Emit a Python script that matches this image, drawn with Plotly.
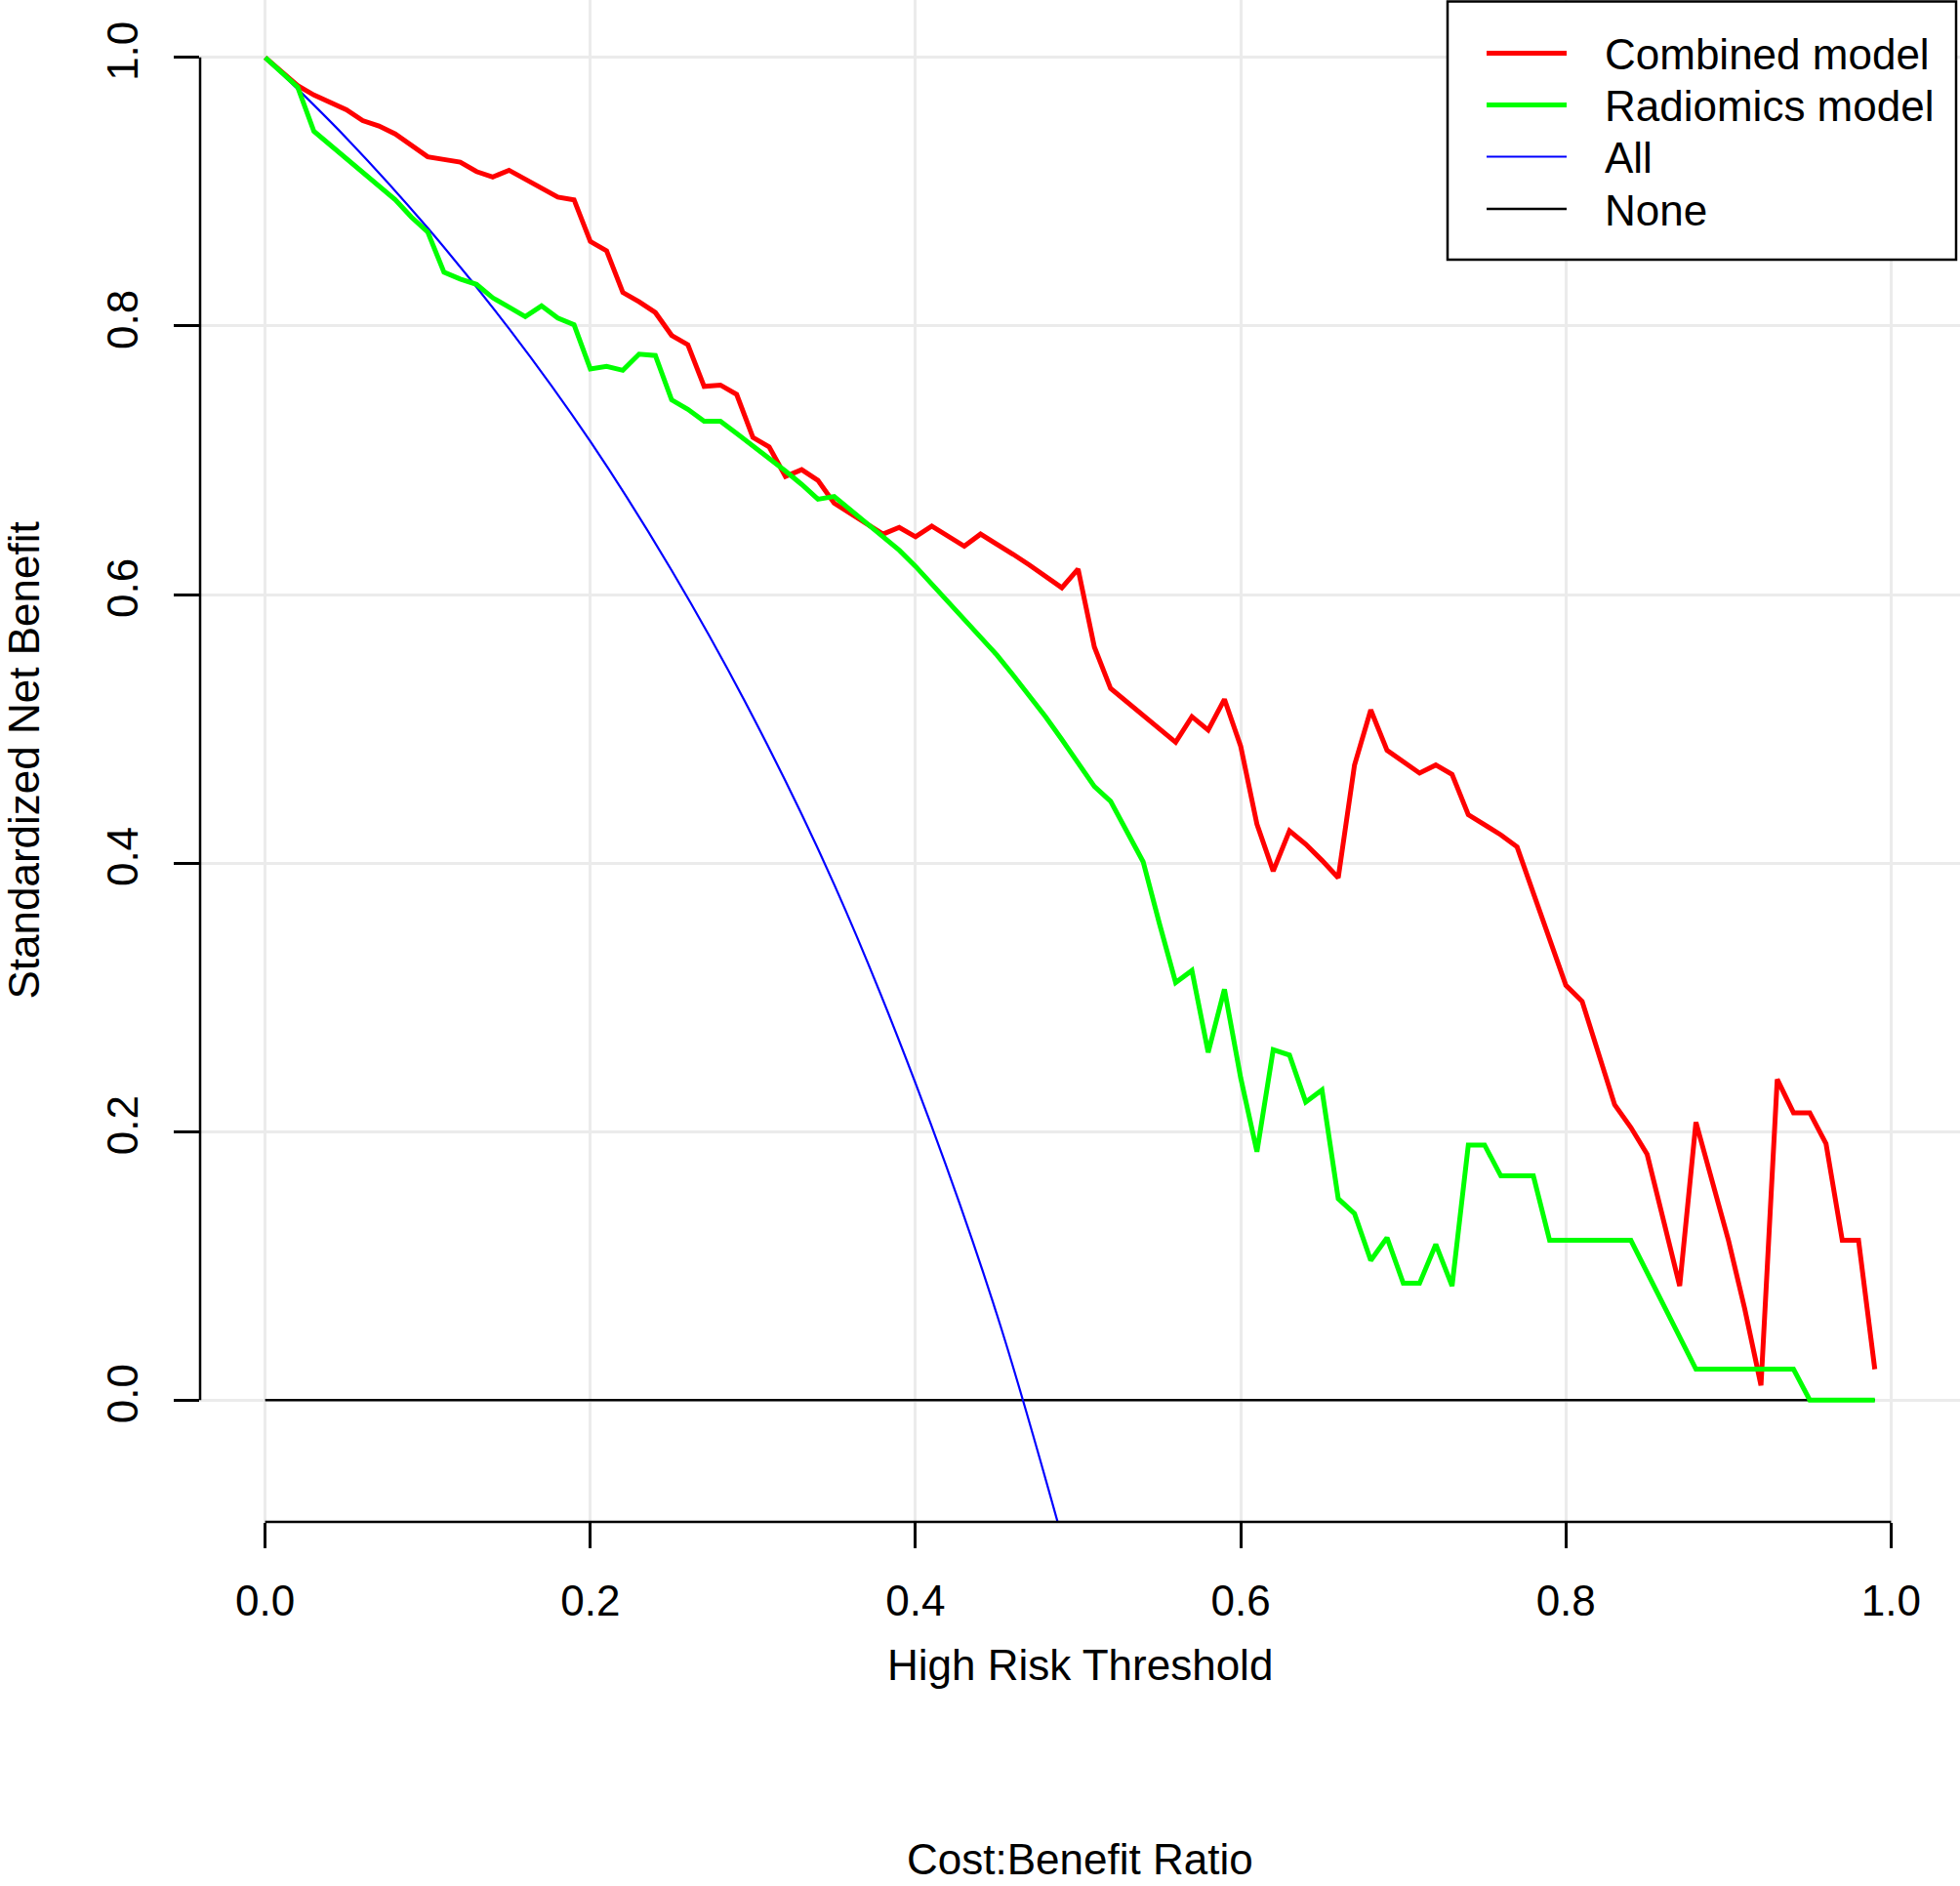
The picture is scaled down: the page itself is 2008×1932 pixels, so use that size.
import plotly.graph_objects as go

# threshold grid (0.00 ... 0.99)
thresholds = [i / 100 for i in range(100)]

combined_model = [
    1.000, 0.989, 0.979, 0.972, 0.966, 0.961, 0.953, 0.949, 0.943, 0.935,
    0.926, 0.924, 0.922, 0.915, 0.911, 0.916, 0.909, 0.903, 0.896, 0.894,
    0.863, 0.856, 0.825, 0.818, 0.810, 0.793, 0.786, 0.755, 0.756, 0.749,
    0.717, 0.710, 0.688, 0.693, 0.685, 0.668, 0.660, 0.653, 0.645, 0.650,
    0.643, 0.651, 0.644, 0.636, 0.645, 0.638, 0.630, 0.622, 0.613, 0.605,
    0.619, 0.561, 0.530, 0.520, 0.510, 0.500, 0.490, 0.509, 0.499, 0.522,
    0.487, 0.429, 0.394, 0.424, 0.414, 0.402, 0.389, 0.473, 0.514, 0.484,
    0.476, 0.467, 0.473, 0.466, 0.436, 0.429, 0.421, 0.412, 0.377, 0.343,
    0.309, 0.297, 0.259, 0.220, 0.203, 0.183, 0.134, 0.085, 0.207, 0.163,
    0.119, 0.068, 0.011, 0.239, 0.214, 0.214, 0.191, 0.119, 0.119, 0.023,
]

radiomics_model = [
    1.000, 0.989, 0.978, 0.945, 0.935, 0.925, 0.915, 0.904, 0.894, 0.881,
    0.870, 0.840, 0.835, 0.831, 0.821, 0.814, 0.807, 0.815, 0.806, 0.801,
    0.768, 0.770, 0.767, 0.779, 0.778, 0.745, 0.738, 0.729, 0.729, 0.720,
    0.711, 0.702, 0.692, 0.682, 0.671, 0.673, 0.663, 0.654, 0.644, 0.633,
    0.621, 0.608, 0.595, 0.582, 0.569, 0.555, 0.540, 0.525, 0.509, 0.492,
    0.475, 0.457, 0.446, 0.424, 0.401, 0.355, 0.311, 0.320, 0.259, 0.306,
    0.240, 0.185, 0.261, 0.257, 0.222, 0.231, 0.150, 0.139, 0.104, 0.121,
    0.087, 0.087, 0.116, 0.085, 0.190, 0.190, 0.167, 0.167, 0.167, 0.119,
    0.119, 0.119, 0.119, 0.119, 0.119, 0.095, 0.071, 0.047, 0.023, 0.023,
    0.023, 0.023, 0.023, 0.023, 0.023, 0.000, 0.000, 0.000, 0.000, 0.000,
]

# treat-all curve, read every 0.05
all_x = [0.00, 0.05, 0.10, 0.15, 0.20, 0.25, 0.30, 0.35, 0.40, 0.45, 0.50]
all_y = [1.000, 0.940, 0.873, 0.798, 0.714, 0.618, 0.509, 0.384, 0.236, 0.064, -0.146]

none_x = [0.00, 0.99]
none_y = [0.0, 0.0]

tick_vals = [0.0, 0.2, 0.4, 0.6, 0.8, 1.0]
tick_text = ["0.0", "0.2", "0.4", "0.6", "0.8", "1.0"]

legend_names = ["Combined model", "Radiomics model", "All", "None"]
legend_colors = ["#FF0000", "#00FF00", "#0000FF", "black"]
legend_widths = [5, 5, 2.2, 2.5]

FONT = "Liberation Sans, Arial, sans-serif"
GRID = "#EBEBEB"

W, H = 2008, 1932
ML, MB = 205, 373
PW, PH = W - ML, H - MB


def px_x(px):
    return (px - ML) / PW


def px_y(py):
    return (PH - py) / PH


fig = go.Figure()

fig.add_trace(go.Scatter(x=none_x, y=none_y, mode="lines", name="None",
                         line=dict(color="black", width=2.5)))
fig.add_trace(go.Scatter(x=all_x, y=all_y, mode="lines", name="All",
                         line=dict(color="#0000FF", width=2.2, shape="spline")))
fig.add_trace(go.Scatter(x=thresholds, y=combined_model, mode="lines",
                         name="Combined model",
                         line=dict(color="#FF0000", width=5)))
fig.add_trace(go.Scatter(x=thresholds, y=radiomics_model, mode="lines",
                         name="Radiomics model",
                         line=dict(color="#00FF00", width=5)))

axis_common = dict(
    tickvals=tick_vals, ticktext=tick_text,
    showgrid=True, gridcolor=GRID, gridwidth=2.5,
    zeroline=False, showline=False,
    ticks="outside", ticklen=26, tickwidth=2.5, tickcolor="black",
    tickfont=dict(size=44, color="black", family=FONT),
)

shapes = [
    # R style axis lines that span only the tick range
    dict(type="line", xref="paper", yref="y", x0=0, x1=0, y0=0, y1=1,
         line=dict(color="black", width=2.5)),
    dict(type="line", xref="x", yref="paper", x0=0, x1=1, y0=0, y1=0,
         line=dict(color="black", width=2.5)),
    # legend box
    dict(type="rect", xref="paper", yref="paper",
         x0=px_x(1483), x1=px_x(2004), y0=px_y(266), y1=px_y(1.5),
         fillcolor="white", line=dict(color="black", width=2.5), layer="above"),
]

annotations = [
    dict(text="High Risk Threshold", xref="paper", yref="paper",
         x=0.5, y=-0.094, xanchor="center", yanchor="middle",
         showarrow=False, font=dict(size=44)),
    # second x label sits at the very bottom of the figure
    dict(text="Cost:Benefit Ratio", xref="paper", yref="paper",
         x=0.5, y=px_y(1931), xanchor="center", yanchor="bottom",
         showarrow=False, font=dict(size=44)),
    dict(text="Standardized Net Benefit", xref="paper", yref="paper",
         x=px_x(24), y=0.5, xanchor="center", yanchor="middle",
         textangle=-90, showarrow=False, font=dict(size=44)),
]

row_y = [54.5, 107.5, 160.5, 214]
for name, color, lw, ry in zip(legend_names, legend_colors, legend_widths, row_y):
    shapes.append(dict(type="line", xref="paper", yref="paper",
                       x0=px_x(1523), x1=px_x(1605), y0=px_y(ry), y1=px_y(ry),
                       line=dict(color=color, width=lw), layer="above"))
    annotations.append(dict(text=name, xref="paper", yref="paper",
                            x=px_x(1642), y=px_y(ry + 1),
                            xanchor="left", yanchor="middle",
                            showarrow=False, font=dict(size=44)))

fig.update_layout(
    width=W, height=H,
    margin=dict(l=ML, r=0, t=0, b=MB),
    paper_bgcolor="white", plot_bgcolor="white",
    font=dict(family=FONT, size=44, color="black"),
    showlegend=False,
    xaxis=dict(range=[-0.04, 1.0424], ticklabelstandoff=16, **axis_common),
    yaxis=dict(range=[-0.0907, 1.0428], tickangle=-90, ticklabelstandoff=19,
               **axis_common),
    shapes=shapes,
    annotations=annotations,
)

fig.write_html("out.html", config={"displayModeBar": False},
               post_script="document.body.style.margin='0';")
